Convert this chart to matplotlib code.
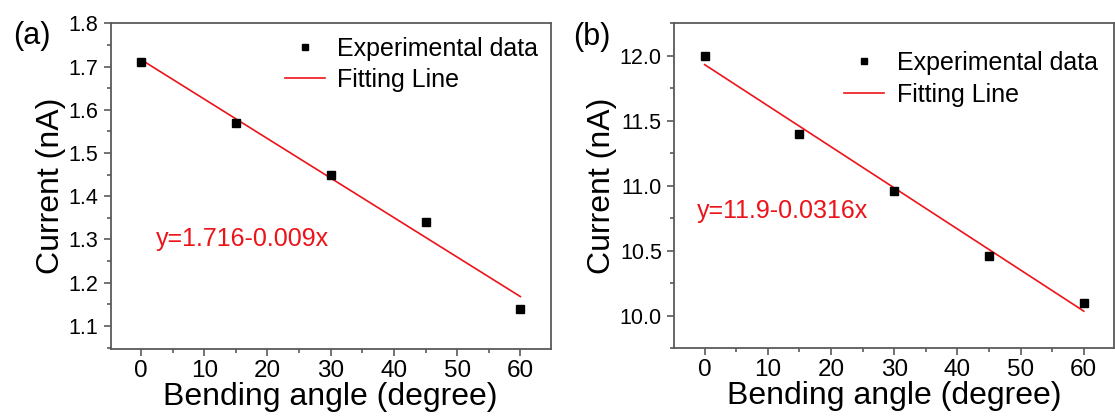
"""Two panels: current vs bending angle with linear fits."""
import matplotlib
matplotlib.use("Agg")
import matplotlib.pyplot as plt
import matplotlib.ticker as mticker
import numpy as np

plt.rcParams["font.family"] = ["Liberation Sans", "DejaVu Sans"]

angles = [0, 15, 30, 45, 60]
current_a = [1.71, 1.57, 1.45, 1.34, 1.14]
current_b = [12.0, 11.4, 10.96, 10.46, 10.1]
eq_a = "y=1.716-0.009x"
eq_b = "y=11.9-0.0316x"

RED = "#ec1319"
SPINE = "#5a5a5a"

fig = plt.figure(figsize=(11.15, 4.16), dpi=100)
ax_a = fig.add_axes([0.0993, 0.1603, 0.3946, 0.7837])
ax_b = fig.add_axes([0.6048, 0.1627, 0.3944, 0.7813])


def draw_panel(ax, y, eq, eq_pos, ylim, ymajor, yminor, yfmt, leg_anchor):
    x = np.array(angles, dtype=float)
    y = np.array(y, dtype=float)
    slope, icpt = np.polyfit(x, y, 1)
    ax.plot(x, y, "s", color="black", markersize=5.3, label="Experimental data",
            zorder=3)
    ax.plot(x, icpt + slope * x, "-", color=RED, linewidth=1.2,
            label="Fitting Line", zorder=2)
    ax.text(eq_pos[0], eq_pos[1], eq, color=RED, fontsize=18, ha="left",
            va="center")

    ax.set_xlim(-4.8, 64.8)
    ax.set_ylim(*ylim)
    ax.xaxis.set_major_locator(mticker.MultipleLocator(10))
    ax.xaxis.set_minor_locator(mticker.MultipleLocator(5))
    ax.yaxis.set_major_locator(mticker.MultipleLocator(ymajor))
    ax.yaxis.set_minor_locator(mticker.MultipleLocator(yminor))
    ax.yaxis.set_major_formatter(mticker.FormatStrFormatter(yfmt))

    for sp in ax.spines.values():
        sp.set_color(SPINE)
        sp.set_linewidth(1.3)
    ax.tick_params(which="both", direction="out", color=SPINE, width=1.2,
                   top=False, right=False)
    ax.tick_params(which="major", length=5)
    ax.tick_params(which="minor", length=3)
    ax.tick_params(axis="x", labelsize=17.5, pad=3)
    ax.tick_params(axis="y", labelsize=15.5, pad=4)

    ax.set_xlabel("Bending angle (degree)", fontsize=23, labelpad=0)
    ax.set_ylabel("Current (nA)", fontsize=23, labelpad=2)

    ax.legend(loc="upper right", bbox_to_anchor=leg_anchor, frameon=False,
              fontsize=18, markerscale=0.75, handlelength=1.6,
              handletextpad=0.5, labelspacing=0.3, borderaxespad=0.0)


draw_panel(ax_a, current_a, eq_a, (2.4, 1.30), (1.046, 1.8), 0.1, 0.05,
           "%.1f", (0.995, 0.99))
draw_panel(ax_b, current_b, eq_b, (-1.2, 10.81), (9.75, 12.25), 0.5, 0.25,
           "%.1f", (0.986, 0.945))

fig.text(0.0287, 0.913, "(a)", fontsize=22, ha="center", va="center")
fig.text(0.531, 0.911, "(b)", fontsize=22, ha="center", va="center")

fig.savefig("out.png", dpi=100)
